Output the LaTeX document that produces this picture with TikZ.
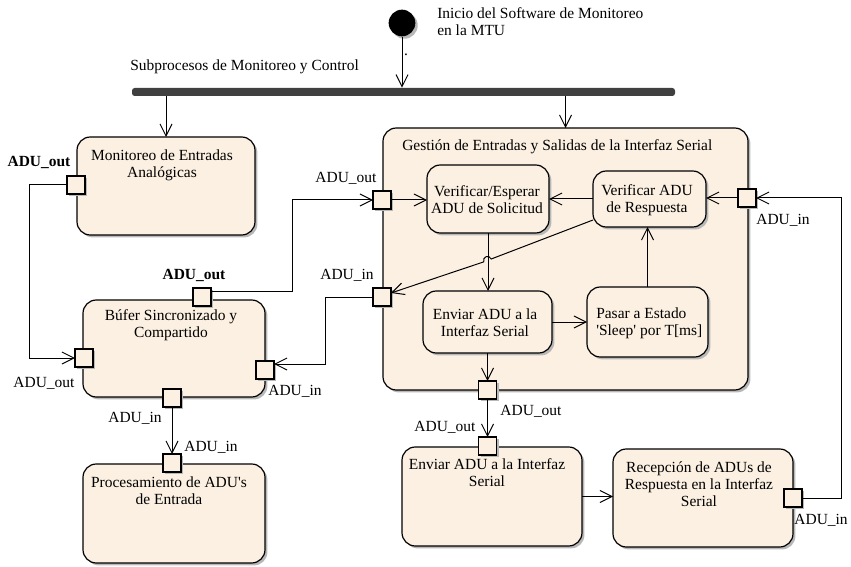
\documentclass[tikz,border=0pt]{standalone}
\usepackage{fontspec}
\setmainfont{Liberation Serif}
\usetikzlibrary{arrows.meta,shadows,calc}
\definecolor{actfill}{HTML}{FBF0E1}
\definecolor{barcol}{HTML}{404040}
\begin{document}
\begin{tikzpicture}[x=0.75pt,y=-0.75pt,
  font=\fontsize{11.6}{12.9}\selectfont,
  shade box/.style={drop shadow={shadow xshift=1.8pt,shadow yshift=-1.8pt,fill=black!28,opacity=1}},
  act/.style 2 args={draw,line width=0.9pt,fill=actfill,rounded corners=10pt,
    minimum width=#1*0.75pt,minimum height=#2*0.75pt,inner sep=0pt,outer sep=0pt,shade box},
  pin/.style={draw,line width=0.9pt,fill=actfill,minimum size=13.5pt,inner sep=0pt,outer sep=0pt,shade box},
  conn/.style={line width=0.75pt,-{Straight Barb[length=9pt,width=9pt,line width=0.75pt]}},
  txt/.style={align=center,inner sep=0pt},
  pinlbl/.style={inner sep=0pt},
  boldlbl/.style={inner sep=0pt,font=\fontsize{11.6}{12.9}\selectfont\bfseries}]
\useasboundingbox (0,0) rectangle (851,567);

% start and fork bar
\node[circle,fill=black,minimum size=20pt,inner sep=0pt,shade box] (start) at (402,23) {};
\node[txt,align=left,anchor=west] (starttxt) at (437,22) {Inicio del Software de Monitoreo\\en la MTU};
\node[rectangle,fill=barcol,rounded corners=2pt,minimum width=543*0.75pt,minimum height=6pt,inner sep=0pt] (bar) at (403.5,92) {};
\node[txt,anchor=west] (bartxt) at (130,67) {Subprocesos de Monitoreo y Control};
\node[txt] (dot) at (406,55) {.};

% activities
\node[act={178}{98}] (mon) at (166,186) {};
\node[txt] (montxt) at (162,165) {Monitoreo de Entradas\\Analógicas};
\node[act={182}{97}] (buf) at (174,348.5) {};
\node[txt] (buftxt) at (171,325) {Búfer Sincronizado y\\Compartido};
\node[act={182}{99}] (proc) at (174,513.5) {};
\node[txt] (proctxt) at (169,491) {Procesamiento de ADU\textquotesingle s\\de Entrada};

\node[act={365}{262}] (ges) at (565.5,259) {};
\node[txt,anchor=west] (gestxt) at (402,147) {Gestión de Entradas y Salidas de la Interfaz Serial};
\node[act={122}{68}] (vesp) at (488,199) {};
\node[txt] (vesptxt) at (487,200) {Verificar/Esperar\\ADU de Solicitud};
\node[act={113}{56}] (vres) at (649.5,199) {};
\node[txt] (vrestxt) at (647,200) {Verificar ADU\\de Respuesta};
\node[act={129}{62}] (envi) at (487.5,322) {};
\node[txt] (envitxt) at (485,323) {Enviar ADU a la\\Interfaz Serial};
\node[act={121}{70}] (pasar) at (647.5,322) {};
\node[txt,align=left,anchor=west] (pasartxt) at (596,323) {Pasar a Estado\\\textquotesingle Sleep\textquotesingle{} por T[ms]};

\node[act={180}{99}] (envb) at (492,496.5) {};
\node[txt] (envbtxt) at (487,473) {Enviar ADU a la Interfaz\\Serial};
\node[act={180}{98}] (rec) at (703,498) {};
\node[txt] (rectxt) at (699,484) {Recepción de ADUs de\\Respuesta en la Interfaz\\Serial};

% pins
\node[pin] (pmon) at (76,185) {};
\node[pin] (pbuftop) at (202,297) {};
\node[pin] (pbufl) at (84,358) {};
\node[pin] (pbufr) at (265,370) {};
\node[pin] (pbufb) at (172,398) {};
\node[pin] (pproc) at (172,463) {};
\node[pin] (pgo) at (382,200) {};
\node[pin] (pgi) at (382,297) {};
\node[pin] (pgr) at (747,198) {};
\node[pin] (pgb) at (487.5,390) {};
\node[pin] (penv) at (487.5,446) {};
\node[pin] (prec) at (793,498) {};

% pin labels
\node[boldlbl] (lmon) at (39,162) {ADU\_out};
\node[boldlbl] (lbuftop) at (194,275) {ADU\_out};
\node[pinlbl] (lbufl) at (44,383) {ADU\_out};
\node[pinlbl] (lbufr) at (295,391) {ADU\_in};
\node[pinlbl] (lbufb) at (135,418) {ADU\_in};
\node[pinlbl] (lproc) at (211,447) {ADU\_in};
\node[pinlbl] (lgo) at (346,178) {ADU\_out};
\node[pinlbl] (lgi) at (347,275) {ADU\_in};
\node[pinlbl] (lgr) at (783,220) {ADU\_in};
\node[pinlbl] (lgb) at (531,411) {ADU\_out};
\node[pinlbl] (lenv) at (445,427) {ADU\_out};
\node[pinlbl,anchor=east] (lrec) at (848,520) {ADU\_in};

% control flows
\draw[conn] (start.south) -- (start.south |- bar.north);
\draw[conn] (bar.south -| mon.north) -- (mon.north);
\draw[conn] (bar.south -| ges.north) -- (ges.north);

% object flows
\draw[conn] (pmon.west) -- ++(-38,0) |- (pbufl.west);
\draw[conn] ($(pbuftop.east)+(0,-6)$) -- ++(81,0) |- (pgo.west);
\draw[conn] (pgi.west) -- ++(-48,0) |- ($(pbufr.east)+(0,-6)$);
\draw[conn] (pbufb.south) -- (pproc.north);
\draw[conn] (pgo.east) -- (pgo.east -| vesp.west);
\draw[conn] (vres.west) -- (vres.west -| vesp.east);
\draw[conn] (pgr.west) -- (pgr.west -| vres.east);
\draw[conn] (prec.east) -- ++(39,0) |- (pgr.east);
\draw[conn] ($(vres.west)+(0,21)$) -- (491.2,259.0) arc[start angle=-21,end angle=-201,radius=4] -- ($(pgi.east)+(0,-4)$);
\draw[conn] (vesp.south) -- (vesp.south |- envi.north);
\draw[conn] (envi.east) -- (envi.east -| pasar.west);
\draw[conn] (pasar.north) -- (pasar.north |- vres.south);
\draw[conn] (envi.south) -- (pgb.north);
\draw[conn] (pgb.south) -- (penv.north);
\draw[conn] (envb.east) -- (envb.east -| rec.west);
\end{tikzpicture}
\end{document}
